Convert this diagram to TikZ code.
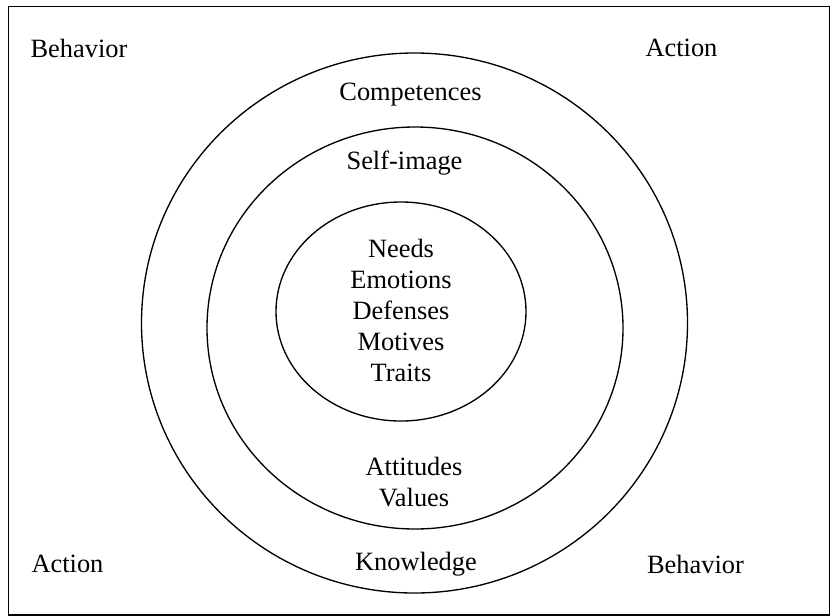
\documentclass[tikz,border=0pt]{standalone}
\usepackage{fontspec}
\setmainfont{Liberation Serif}
\usetikzlibrary{shapes,arrows}

\begin{document}
\begin{tikzpicture}[x=0.75pt,y=-0.75pt]
	\tikzstyle{every node}=[font=\fontsize{19.8}{23.25}\selectfont, align=center, inner sep=0pt]
	\tikzstyle{ring}=[line width=1.0pt]
	
	%% frame
	\useasboundingbox (0,0) rectangle (830,615);
	\draw [line width=1.2pt] (8.5,6.5) rectangle (830,615);
	
	%% rings
	\draw [ring]  (414.5,323.0) ellipse [x radius=273.0, y radius=270.0];
	\draw [ring]  (415.0,328.0) ellipse [x radius=208.0, y radius=201.0];
	\draw [ring]  (401.0,311.5) ellipse [x radius=125.0, y radius=109.5];
	
	%% corner labels
	\node (behaviortl) at (79.0,48.0)  {Behavior};
	\node (actiontr)   at (681.5,48.0) {Action};
	\node (actionbl)   at (67.5,564.0) {Action};
	\node (behaviorbr) at (695.5,564.0) {Behavior};
	
	%% ring labels
	\node (competences) at (410.5,95.0)  {Competences};
	\node (selfimage)   at (404.5,163.0) {Self-image};
	\node (core)        at (401.0,310.5) {Needs\\Emotions\\Defenses\\Motives\\Traits};
	\node (attitudes)   at (414.0,482.0) {Attitudes\\Values};
	\node (knowledge)   at (416.0,564.0) {Knowledge};

\end{tikzpicture}
\end{document}
